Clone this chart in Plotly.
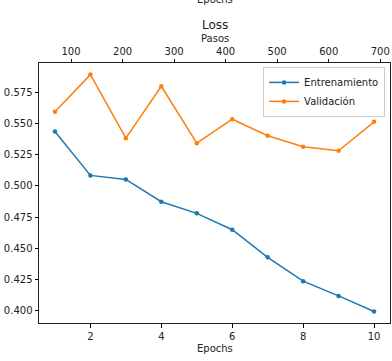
import plotly.graph_objects as go

epochs = [1, 2, 3, 4, 5, 6, 7, 8, 9, 10]
train_loss = [0.5436, 0.5084, 0.5052, 0.4873, 0.4780, 0.4649, 0.4428, 0.4237, 0.4119, 0.3994]
val_loss = [0.5593, 0.5891, 0.5382, 0.5798, 0.5342, 0.5534, 0.5401, 0.5313, 0.5281, 0.5513]
y_ticks = [0.400, 0.425, 0.450, 0.475, 0.500, 0.525, 0.550, 0.575]
x_ticks = [2, 4, 6, 8, 10]
step_ticks = [100, 200, 300, 400, 500, 600, 700]
steps_per_epoch = 68.8

FONT = "DejaVu Sans"
x_range = [0.55, 10.45]

fig = go.Figure()
fig.add_trace(go.Scatter(x=epochs, y=train_loss, mode="lines+markers", name="Entrenamiento",
                         line=dict(color="#1f77b4", width=1.5), marker=dict(size=4.5, color="#1f77b4")))
fig.add_trace(go.Scatter(x=epochs, y=val_loss, mode="lines+markers", name="Validación",
                         line=dict(color="#ff7f0e", width=1.5), marker=dict(size=4.5, color="#ff7f0e")))
# invisible trace to hold the top (steps) axis
fig.add_trace(go.Scatter(x=[e * steps_per_epoch for e in epochs], y=train_loss, xaxis="x2",
                         mode="markers", marker=dict(opacity=0), showlegend=False, hoverinfo="skip"))

axis_common = dict(showgrid=False, zeroline=False, ticks="outside", ticklen=3.5, tickwidth=0.8,
                   tickcolor="black", linecolor="#222", linewidth=1,
                   tickfont=dict(family=FONT, size=10, color="#222"))

fig.update_layout(
    width=392, height=361,
    margin=dict(l=39, r=2, t=63, b=38, autoexpand=False),
    plot_bgcolor="white", paper_bgcolor="white",
    font=dict(family=FONT, size=10, color="#222"),
    xaxis=dict(range=x_range, tickvals=x_ticks, mirror=False, automargin=False, **axis_common),
    xaxis2=dict(range=[x_range[0] * steps_per_epoch, x_range[1] * steps_per_epoch], overlaying="x",
                side="top", tickvals=step_ticks, anchor="y", automargin=False, **axis_common),
    yaxis=dict(range=[0.3902, 0.5984], tickvals=y_ticks, tickformat=".3f", mirror=True,
               automargin=False, **axis_common),
    legend=dict(x=0.986, y=0.985, xanchor="right", yanchor="top", bgcolor="rgba(255,255,255,0.8)",
                bordercolor="#ccc", borderwidth=1, font=dict(family=FONT, size=10, color="#222"),
                tracegroupgap=0, itemwidth=30),
    showlegend=True,
    annotations=[
        dict(text="Loss", xref="paper", yref="paper", x=0.5, y=1, yanchor="middle", yshift=38.0,
             showarrow=False, font=dict(family=FONT, size=12, color="#222")),
        dict(text="Pasos", xref="paper", yref="paper", x=0.5, y=1, yanchor="middle", yshift=24.7,
             showarrow=False, font=dict(family=FONT, size=10, color="#222")),
        dict(text="Epochs", xref="paper", yref="paper", x=0.5, y=1, yanchor="middle", yshift=64,
             showarrow=False, font=dict(family=FONT, size=10, color="#222")),
        dict(text="Epochs", xref="paper", yref="paper", x=0.5, y=0, yanchor="middle", yshift=-25.3,
             showarrow=False, font=dict(family=FONT, size=10, color="#222")),
    ],
)

fig.write_html("out.html", config={"displayModeBar": False},
               post_script="document.body.style.margin='0';document.body.style.overflow='hidden';")
